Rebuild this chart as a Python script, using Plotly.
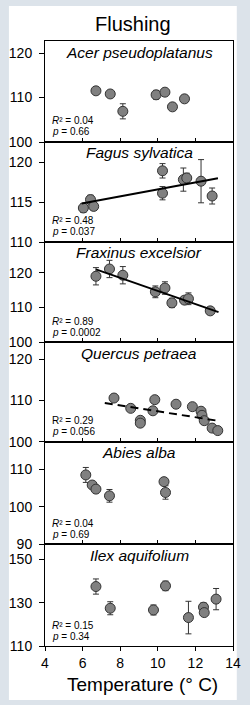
import numpy as np
import plotly.graph_objects as go

species = ["Acer pseudoplatanus", "Fagus sylvatica", "Fraxinus excelsior",
           "Quercus petraea", "Abies alba", "Ilex aquifolium"]

acer_temp = [6.71, 7.47, 8.14, 9.91, 10.38, 10.78, 11.42]
acer_doy = [111.5, 110.8, 106.9, 110.6, 111.2, 107.9, 109.7]
acer_err = [0.5, 0.4, 1.7, 1.0, 0.6, 0.5, 0.4]

fagus_temp = [6.04, 6.42, 6.59, 10.25, 10.25, 11.36, 11.54, 12.30, 12.89]
fagus_doy = [114.25, 115.3, 114.45, 118.9, 116.1, 117.8, 118.0, 117.6, 115.75]
fagus_err = [0.55, 0.55, 0.5, 0.9, 0.83, 1.45, 0.6, 2.7, 1.0]

fraxinus_temp = [6.71, 7.43, 8.14, 9.87, 10.38, 10.75, 11.42, 11.63, 12.79]
fraxinus_doy = [119.0, 121.1, 119.3, 114.5, 115.6, 111.3, 112.1, 112.5, 109.0]
fraxinus_err = [2.5, 2.5, 2.5, 1.7, 1.8, 1.35, 0.6, 1.7, 0.5]

quercus_temp = [7.67, 8.56, 9.07, 9.07, 9.84, 9.74, 10.97, 11.84, 12.30, 12.35, 12.47, 12.89, 13.19]
quercus_doy = [110.6, 108.1, 105.2, 104.5, 110.2, 107.5, 109.1, 108.5, 107.4, 106.4, 105.1, 103.3, 102.7]
quercus_err = [0.3] * 13

abies_temp = [6.17, 6.51, 6.71, 7.43, 10.33, 10.41]
abies_doy = [108.5, 105.8, 104.7, 102.9, 106.7, 103.8]
abies_err = [2.0, 0.7, 1.0, 1.7, 0.5, 1.8]

ilex_temp = [6.71, 7.47, 9.77, 10.41, 11.63, 12.43, 12.47, 13.10]
ilex_doy = [137.4, 127.4, 126.6, 137.7, 123.1, 127.9, 125.4, 131.6]
ilex_err = [3.5, 3.0, 2.3, 2.2, 7.5, 2.0, 1.5, 4.9]

r2_labels = ["0.04", "0.48", "0.89", "0.29", "0.04", "0.15"]
p_labels = ["0.66", "0.037", "0.0002", "0.056", "0.69", "0.34"]

# regression line extents (x) for significant / marginal fits; None = no line
fit_extent = [None, [5.95, 13.2], [6.71, 13.23], [7.18, 13.23], None, None]
fit_dash = [None, "solid", "solid", "dash", None, None]

y_ranges = [[100, 122.7], [110, 122.5], [100, 128.9], [100, 124.2], [90, 117.4], [110, 157]]
y_ticks = [[100, 110, 120], [110, 115, 120], [100, 110, 120], [100, 110, 120], [90, 100, 110], [110, 130, 150]]
x_ticks = [4, 6, 8, 10, 12, 14]

temps = [acer_temp, fagus_temp, fraxinus_temp, quercus_temp, abies_temp, ilex_temp]
doys = [acer_doy, fagus_doy, fraxinus_doy, quercus_doy, abies_doy, ilex_doy]
errs = [acer_err, fagus_err, fraxinus_err, quercus_err, abies_err, ilex_err]

W, H = 250, 705
L, R, T, B = 43, 9, 41, 59
plot_h = H - T - B
bounds_px = [41, 142, 242, 342, 441.7, 544, 646]
bottom_px = H - B


def to_paper_y(px):
    return (bottom_px - px) / plot_h


def to_paper_x(px):
    return (px - L) / (W - L - R)


FONT = "Arial, Liberation Sans, sans-serif"
fig = go.Figure()
layout = dict(
    width=W, height=H,
    margin=dict(l=L, r=R, t=T, b=B),
    paper_bgcolor="#dce3ea",
    plot_bgcolor="white",
    showlegend=False,
    font=dict(family=FONT, color="black", size=14),
)
annotations = []

for i in range(6):
    n = i + 1
    xa = "x" if n == 1 else f"x{n}"
    ya = "y" if n == 1 else f"y{n}"
    fig.add_trace(go.Scatter(
        x=temps[i], y=doys[i], mode="markers", xaxis=xa, yaxis=ya,
        marker=dict(size=10, color="#808080", line=dict(color="#333333", width=1)),
        error_y=dict(type="data", array=errs[i], color="#333333", thickness=1, width=3),
        cliponaxis=False,
    ))
    if fit_extent[i] is not None:
        slope, icpt = np.polyfit(temps[i], doys[i], 1)
        xs = np.array(fit_extent[i])
        fig.add_trace(go.Scatter(
            x=xs, y=slope * xs + icpt, mode="lines", xaxis=xa, yaxis=ya,
            line=dict(color="black", width=2, dash="solid" if fit_dash[i] == "solid" else "8px,5px"),
        ))
    top = to_paper_y(bounds_px[i])
    bot = to_paper_y(bounds_px[i + 1])
    layout["xaxis" if n == 1 else f"xaxis{n}"] = dict(
        domain=[0, 1], anchor=ya, range=[4, 14], tickvals=x_ticks,
        showticklabels=(n == 6), ticks="outside" if n == 6 else "inside",
        ticklen=4, tickcolor="black", showline=True, mirror=True,
        linecolor="black", linewidth=1, showgrid=False, zeroline=False,
        tickfont=dict(size=14),
    )
    layout["yaxis" if n == 1 else f"yaxis{n}"] = dict(
        domain=[bot, top], anchor=xa, range=y_ranges[i], tickvals=y_ticks[i],
        ticks="outside", ticklen=5, tickcolor="black", showline=True, mirror=True,
        linecolor="black", linewidth=1, showgrid=False, zeroline=False,
        tickfont=dict(size=14), ticklabelstandoff=4,
    )
    annotations.append(dict(
        text=f"<i>{species[i]}</i>", xref=f"{xa} domain", yref=f"{ya} domain",
        x=0.5, y=1, yanchor="middle", yshift=-11, showarrow=False,
        font=dict(size=15.5),
    ))
    r_txt = "R²" if i == 3 else "<i>R</i>²"
    annotations.append(dict(
        text=f"{r_txt} = {r2_labels[i]}", xref=f"{xa} domain", yref=f"{ya} domain",
        x=0, y=0, xanchor="left", yanchor="middle", xshift=5, yshift=21,
        showarrow=False, font=dict(size=10),
    ))
    annotations.append(dict(
        text=f"<i>p</i> = {p_labels[i]}", xref=f"{xa} domain", yref=f"{ya} domain",
        x=0, y=0, xanchor="left", yanchor="middle", xshift=5, yshift=10,
        showarrow=False, font=dict(size=10),
    ))

annotations.append(dict(
    text="Flushing", xref="paper", yref="paper", x=to_paper_x(135.5), y=to_paper_y(24),
    xanchor="center", yanchor="middle", showarrow=False, font=dict(size=20),
))
annotations.append(dict(
    text="Temperature (° C)", xref="paper", yref="paper", x=to_paper_x(146), y=to_paper_y(684),
    xanchor="center", yanchor="middle", showarrow=False, font=dict(size=19),
))
layout["annotations"] = annotations
layout["shapes"] = [dict(
    type="rect", xref="paper", yref="paper", layer="below",
    x0=to_paper_x(5), x1=to_paper_x(245), y0=to_paper_y(700), y1=to_paper_y(6),
    fillcolor="white", line=dict(width=0),
)]
fig.update_layout(**layout)
fig.write_html(
    "out.html",
    config={"displayModeBar": False},
    post_script="document.body.style.margin='0';document.body.style.padding='0';",
)
